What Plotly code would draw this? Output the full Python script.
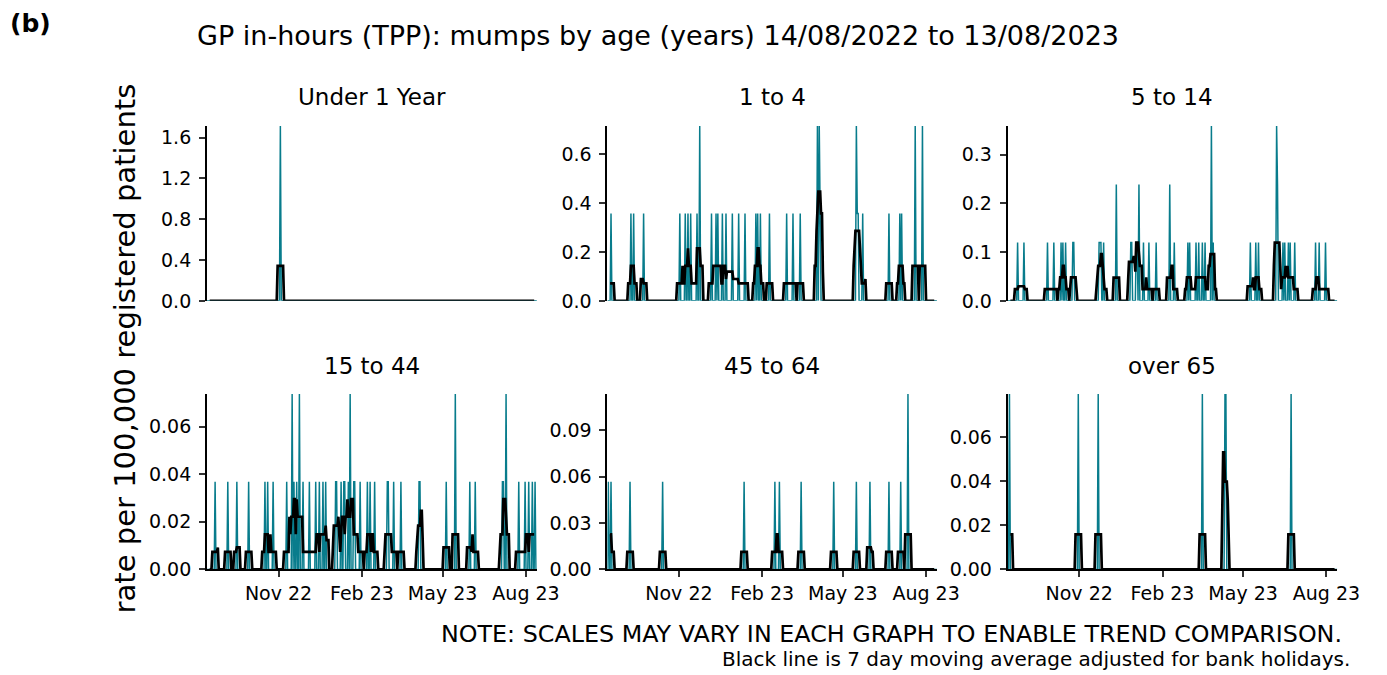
import pandas as pd
import numpy as np
import plotly.graph_objects as go

START = "2022-08-14"
END = "2023-08-13"
bank_holidays = ["2022-08-29", "2022-09-19", "2022-12-26", "2022-12-27", "2023-01-02",
                 "2023-04-07", "2023-04-10", "2023-05-01", "2023-05-08", "2023-05-29"]

panel_titles = ["Under 1 Year", "1 to 4", "5 to 14", "15 to 44", "45 to 64", "over 65"]

# daily rate per 100,000 registered patients (days not listed are 0)
u1_dates = ["2022-11-03"]
u1_rates = [1.713]

a1_4_dates = ["2022-08-18", "2022-09-09", "2022-09-12", "2022-09-23", "2022-11-02", "2022-11-08",
              "2022-11-11", "2022-11-14", "2022-11-21", "2022-11-24", "2022-12-07", "2022-12-12",
              "2022-12-14", "2022-12-19", "2022-12-23", "2022-12-30", "2023-01-06", "2023-01-13",
              "2023-01-25", "2023-01-27", "2023-01-30", "2023-02-09", "2023-02-28", "2023-03-07",
              "2023-03-15", "2023-04-03", "2023-04-05", "2023-04-06", "2023-05-16", "2023-05-17",
              "2023-05-18", "2023-05-23", "2023-06-21", "2023-07-03", "2023-07-05", "2023-07-20",
              "2023-07-28"]
a1_4_rates = [0.357, 0.357, 0.357, 0.357, 0.357, 0.357,
              0.357, 0.357, 0.357, 0.714, 0.357, 0.357,
              0.357, 0.357, 0.357, 0.357, 0.357, 0.357,
              0.357, 0.357, 0.357, 0.357, 0.357, 0.357,
              0.357, 0.714, 0.714, 0.357, 0.714, 0.357,
              0.357, 0.357, 0.357, 0.357, 0.357, 0.714,
              0.714]

a5_14_dates = ["2022-08-25", "2022-09-01", "2022-09-27", "2022-10-04", "2022-10-12", "2022-10-14",
               "2022-10-17", "2022-10-25", "2022-10-26", "2022-11-23", "2022-11-24", "2022-11-25",
               "2022-11-28", "2022-12-12", "2022-12-28", "2022-12-29", "2023-01-03", "2023-01-04",
               "2023-01-06", "2023-01-11", "2023-01-17", "2023-01-25", "2023-02-09", "2023-02-14",
               "2023-03-01", "2023-03-03", "2023-03-10", "2023-03-13", "2023-03-17", "2023-03-20",
               "2023-03-27", "2023-03-29", "2023-05-09", "2023-05-15", "2023-05-18", "2023-06-07",
               "2023-06-08", "2023-06-14", "2023-06-16", "2023-06-20", "2023-06-22",
               "2023-06-27", "2023-07-20", "2023-07-24", "2023-07-31"]
a5_14_rates = [0.120, 0.120, 0.120, 0.120, 0.120, 0.120,
               0.120, 0.120, 0.120, 0.120, 0.120, 0.120,
               0.120, 0.239, 0.120, 0.120, 0.120, 0.120,
               0.239, 0.120, 0.120, 0.120, 0.239, 0.120,
               0.120, 0.120, 0.120, 0.120, 0.120, 0.120,
               0.359, 0.120, 0.120, 0.120, 0.120, 0.359,
               0.239, 0.120, 0.120, 0.120, 0.120,
               0.120, 0.120, 0.120, 0.120]

a15_44_dates = ["2022-08-23", "2022-09-06", "2022-09-16", "2022-09-29", "2022-10-17", "2022-10-20",
                "2022-10-26", "2022-11-10", "2022-11-16", "2022-11-18", "2022-11-21", "2022-11-24",
                "2022-11-28", "2022-12-05", "2022-12-12", "2022-12-16", "2022-12-20", "2022-12-23",
                "2023-01-03", "2023-01-04", "2023-01-09", "2023-01-12", "2023-01-13", "2023-01-17",
                "2023-01-19", "2023-01-23", "2023-01-24", "2023-01-30", "2023-02-07", "2023-02-10",
                "2023-02-15", "2023-03-01", "2023-03-02", "2023-03-08", "2023-03-16", "2023-04-05",
                "2023-04-06", "2023-05-05", "2023-05-15", "2023-05-31", "2023-06-06", "2023-07-06",
                "2023-07-07", "2023-07-10", "2023-07-24", "2023-07-31", "2023-08-04", "2023-08-08",
                "2023-08-11"]
a15_44_rates = [0.0369, 0.0369, 0.0369, 0.0369, 0.0369, 0.0369,
                0.0369, 0.0369, 0.0738, 0.0369, 0.0369, 0.0738,
                0.0369, 0.0369, 0.0369, 0.0369, 0.0369, 0.0369,
                0.0369, 0.0369, 0.0369, 0.0369, 0.0369, 0.0369,
                0.0738, 0.0369, 0.0369, 0.0369, 0.0369, 0.0369,
                0.0369, 0.0369, 0.0369, 0.0369, 0.0369, 0.0369,
                0.0369, 0.0369, 0.0738, 0.0369, 0.0369, 0.0369,
                0.0369, 0.0738, 0.0369, 0.0369, 0.0369, 0.0369,
                0.0369]

a45_64_dates = ["2022-08-15", "2022-08-18", "2022-09-08", "2022-10-14", "2023-01-12", "2023-02-15",
                "2023-02-20", "2023-03-16", "2023-04-21", "2023-05-16", "2023-05-31", "2023-06-21",
                "2023-07-04", "2023-07-12"]
a45_64_rates = [0.0568, 0.0568, 0.0568, 0.0568, 0.0568, 0.0568,
                0.0568, 0.0568, 0.0568, 0.0568, 0.0568, 0.0568,
                0.0568, 0.1136]

o65_dates = ["2022-08-16", "2022-10-31", "2022-11-22", "2023-03-17", "2023-04-11", "2023-04-12",
             "2023-06-23"]
o65_rates = [0.0795, 0.0795, 0.0795, 0.0795, 0.0795, 0.0795, 0.0795]

y_ticks = [[0.0, 0.4, 0.8, 1.2, 1.6], [0.0, 0.2, 0.4, 0.6], [0.0, 0.1, 0.2, 0.3],
           [0.0, 0.02, 0.04, 0.06], [0.0, 0.03, 0.06, 0.09], [0.0, 0.02, 0.04, 0.06]]
y_tick_fmt = [".1f", ".1f", ".1f", ".2f", ".2f", ".2f"]
x_tick_dates = ["2022-11-01", "2023-02-01", "2023-05-01", "2023-08-01"]
x_tick_labels = ["Nov 22", "Feb 23", "May 23", "Aug 23"]

series = [(u1_dates, u1_rates), (a1_4_dates, a1_4_rates), (a5_14_dates, a5_14_rates),
          (a15_44_dates, a15_44_rates), (a45_64_dates, a45_64_rates), (o65_dates, o65_rates)]

TEAL = "#087C8C"
FONT = "DejaVu Sans"
W, H = 1387, 675

days = pd.date_range(START, END, freq="D")
bh = pd.to_datetime(bank_holidays)
working = pd.Series(((days.weekday < 5) & (~days.isin(bh))).astype(float), index=days)
n_work = working.rolling(7, center=True).sum()

# panel pixel boxes (left, right) and (top, bottom)
cols_px = [(202.3, 537.8), (609.5, 944.6), (1016.5, 1351.7)]
rows_px = [(120.0, 297.7), (392.3, 570.7)]

fig = go.Figure()
layout = {}
for i, (dts, rts) in enumerate(series):
    r, c = divmod(i, 3)
    daily = pd.Series(0.0, index=days)
    for d, v in zip(dts, rts):
        daily[pd.Timestamp(d)] += v
    ma = daily.rolling(7, center=True).sum() / n_work
    ax = "" if i == 0 else str(i + 1)
    fig.add_trace(go.Scatter(x=days, y=daily.values, mode="lines",
                             line=dict(color=TEAL, width=1.5), xaxis="x" + ax, yaxis="y" + ax,
                             showlegend=False, hoverinfo="skip"))
    fig.add_trace(go.Scatter(x=days, y=ma.values, mode="lines",
                             line=dict(color="black", width=2.7), xaxis="x" + ax, yaxis="y" + ax,
                             showlegend=False, hoverinfo="skip", connectgaps=False))
    x0, x1 = cols_px[c]
    y0, y1 = rows_px[r]
    ymax = max(rts)
    xa = dict(domain=[x0 / W, x1 / W], range=[START, END], type="date",
              anchor="y" + ax, showgrid=False, zeroline=False,
              tickfont=dict(family=FONT, size=19, color="black"))
    if r == 1:
        xa.update(showline=True, linecolor="black", linewidth=1.8, ticks="outside", ticklen=6,
                  tickwidth=1.8, tickcolor="#333333", tickvals=x_tick_dates, ticktext=x_tick_labels)
    else:
        xa.update(showline=False, showticklabels=False, ticks="")
    ya = dict(domain=[1 - y1 / H, 1 - y0 / H], range=[0, ymax], anchor="x" + ax,
              showgrid=False, zeroline=False, showline=True, linecolor="black", linewidth=1.8,
              ticks="outside", ticklen=6, tickwidth=1.8, tickcolor="#333333",
              tickvals=y_ticks[i], tickformat=y_tick_fmt[i], ticklabelstandoff=4,
              tickfont=dict(family=FONT, size=19, color="black"))
    layout["xaxis" + ax] = xa
    layout["yaxis" + ax] = ya

annotations = []
for i, t in enumerate(panel_titles):
    r, c = divmod(i, 3)
    x0, x1 = cols_px[c]
    yc = [90, 364][r]
    annotations.append(dict(text=t, x=(x0 + x1) / 2 / W, y=1 - yc / H, xref="paper", yref="paper",
                            showarrow=False, xanchor="center", yanchor="middle",
                            font=dict(family=FONT, size=23, color="black")))
annotations.append(dict(text="GP in-hours (TPP): mumps by age (years) 14/08/2022 to 13/08/2023",
                        x=660.5 / W, y=1 - 28 / H, xref="paper", yref="paper", showarrow=False,
                        xanchor="center", yanchor="middle", font=dict(family=FONT, size=27, color="black")))
annotations.append(dict(text="<b>(b)</b>", x=0, y=1 - 16 / H, xref="paper", yref="paper",
                        showarrow=False, xanchor="left", yanchor="middle",
                        font=dict(family=FONT, size=25, color="black")))
annotations.append(dict(text="rate per 100,000 registered patients", x=119 / W, y=1 - 346 / H,
                        xref="paper", yref="paper", showarrow=False, textangle=-90,
                        xanchor="center", yanchor="middle", font=dict(family=FONT, size=29, color="black")))
annotations.append(dict(text="NOTE: SCALES MAY VARY IN EACH GRAPH TO ENABLE TREND COMPARISON.",
                        x=1359 / W, y=1 - 636 / H, xref="paper", yref="paper", showarrow=False,
                        xanchor="right", yanchor="middle", font=dict(family=FONT, size=23.8, color="black")))
annotations.append(dict(text="Black line is 7 day moving average adjusted for bank holidays.",
                        x=1367 / W, y=1 - 662 / H, xref="paper", yref="paper", showarrow=False,
                        xanchor="right", yanchor="middle", font=dict(family=FONT, size=20, color="black")))

fig.update_layout(width=W, height=H, margin=dict(l=0, r=0, t=0, b=0),
                  paper_bgcolor="white", plot_bgcolor="white", annotations=annotations,
                  font=dict(family=FONT, color="black"), **layout)
fig.write_html("out.html")
